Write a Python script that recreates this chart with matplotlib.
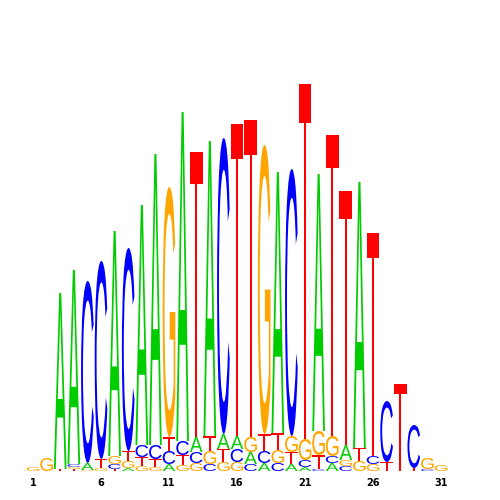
# Sequence logo, 31 positions
import matplotlib
matplotlib.use('Agg')
import matplotlib.pyplot as plt
from matplotlib.textpath import TextPath
from matplotlib.patches import PathPatch
from matplotlib.font_manager import FontProperties
from matplotlib.transforms import Affine2D

# letters of each column, bottom to top
letters = ['G', 'G', 'TA', 'TGCA', 'GAC', 'GTC', 'TCGA', 'AGTC', 'GTCA', 'GTCA',
           'ACTG', 'GTCA', 'GCAT', 'CGTA', 'GTAC', 'GCAT', 'CAGT', 'ACTG', 'CGTA', 'ATGC',
           'ACGT', 'CTGA', 'ACGT', 'CGAT', 'GTA', 'GCT', 'TC', 'T', 'TC', 'CG', 'G']

# letter heights in bits, same order
heights = [[0.02], [0.065], [0.01, 0.88], [0.01, 0.01, 0.015, 0.97],
           [0.005, 0.035, 0.91], [0.015, 0.045, 0.99], [0.01, 0.025, 0.04, 1.125],
           [0.015, 0.035, 0.05, 1.015], [0.025, 0.045, 0.06, 1.2],
           [0.02, 0.04, 0.07, 1.455], [0.035, 0.065, 0.07, 1.25],
           [0.03, 0.05, 0.07, 1.645], [0.04, 0.055, 0.075, 1.425],
           [0.035, 0.065, 0.075, 1.475], [0.045, 0.065, 0.075, 1.48],
           [0.045, 0.065, 0.065, 1.56], [0.035, 0.06, 0.075, 1.585],
           [0.04, 0.06, 0.085, 1.445], [0.04, 0.065, 0.085, 1.305],
           [0.035, 0.06, 0.08, 1.335], [0.02, 0.035, 0.105, 1.775],
           [0.01, 0.07, 0.12, 1.285], [0.04, 0.035, 0.1, 1.505],
           [0.025, 0.03, 0.075, 1.27], [0.05, 0.065, 1.33], [0.035, 0.04, 1.115],
           [0.045, 0.305], [0.435], [0.015, 0.215], [0.01, 0.055], [0.03]]

tick_pos = [1, 6, 11, 16, 21, 26, 31]

colors = {'A': '#00CC00', 'C': '#0000FF', 'G': '#FFA500', 'T': '#FF0000'}
font = FontProperties(family='Liberation Sans', weight='normal')


def draw_letter(ax, ch, x, y, w, h):
    tp = TextPath((0, 0), ch, size=1, prop=font)
    bb = tp.get_extents()
    tr = (Affine2D().translate(-bb.x0, -bb.y0)
          .scale(w / bb.width, h / bb.height)
          .translate(x - w / 2, y))
    ax.add_patch(PathPatch(tr.transform_path(tp), facecolor=colors[ch],
                           edgecolor='none'))


fig = plt.figure(figsize=(5, 5), dpi=100)
ax = fig.add_axes([0.0524, 0.058, 0.8432, 0.8])

for i, (col, hs) in enumerate(zip(letters, heights)):
    y = 0
    for ch, h in zip(col, hs):
        draw_letter(ax, ch, i + 1, y, 0.93, h)
        y += h

ax.set_xlim(0.5, 31.5)
ax.set_ylim(0, 2)
ax.set_xticks(tick_pos)
ax.set_xticklabels([str(p) for p in tick_pos], fontsize=7, fontweight='bold')
ax.tick_params(axis='x', length=0, pad=5)
ax.set_yticks([])
for s in ax.spines.values():
    s.set_visible(False)

fig.savefig('out.png', dpi=100)
